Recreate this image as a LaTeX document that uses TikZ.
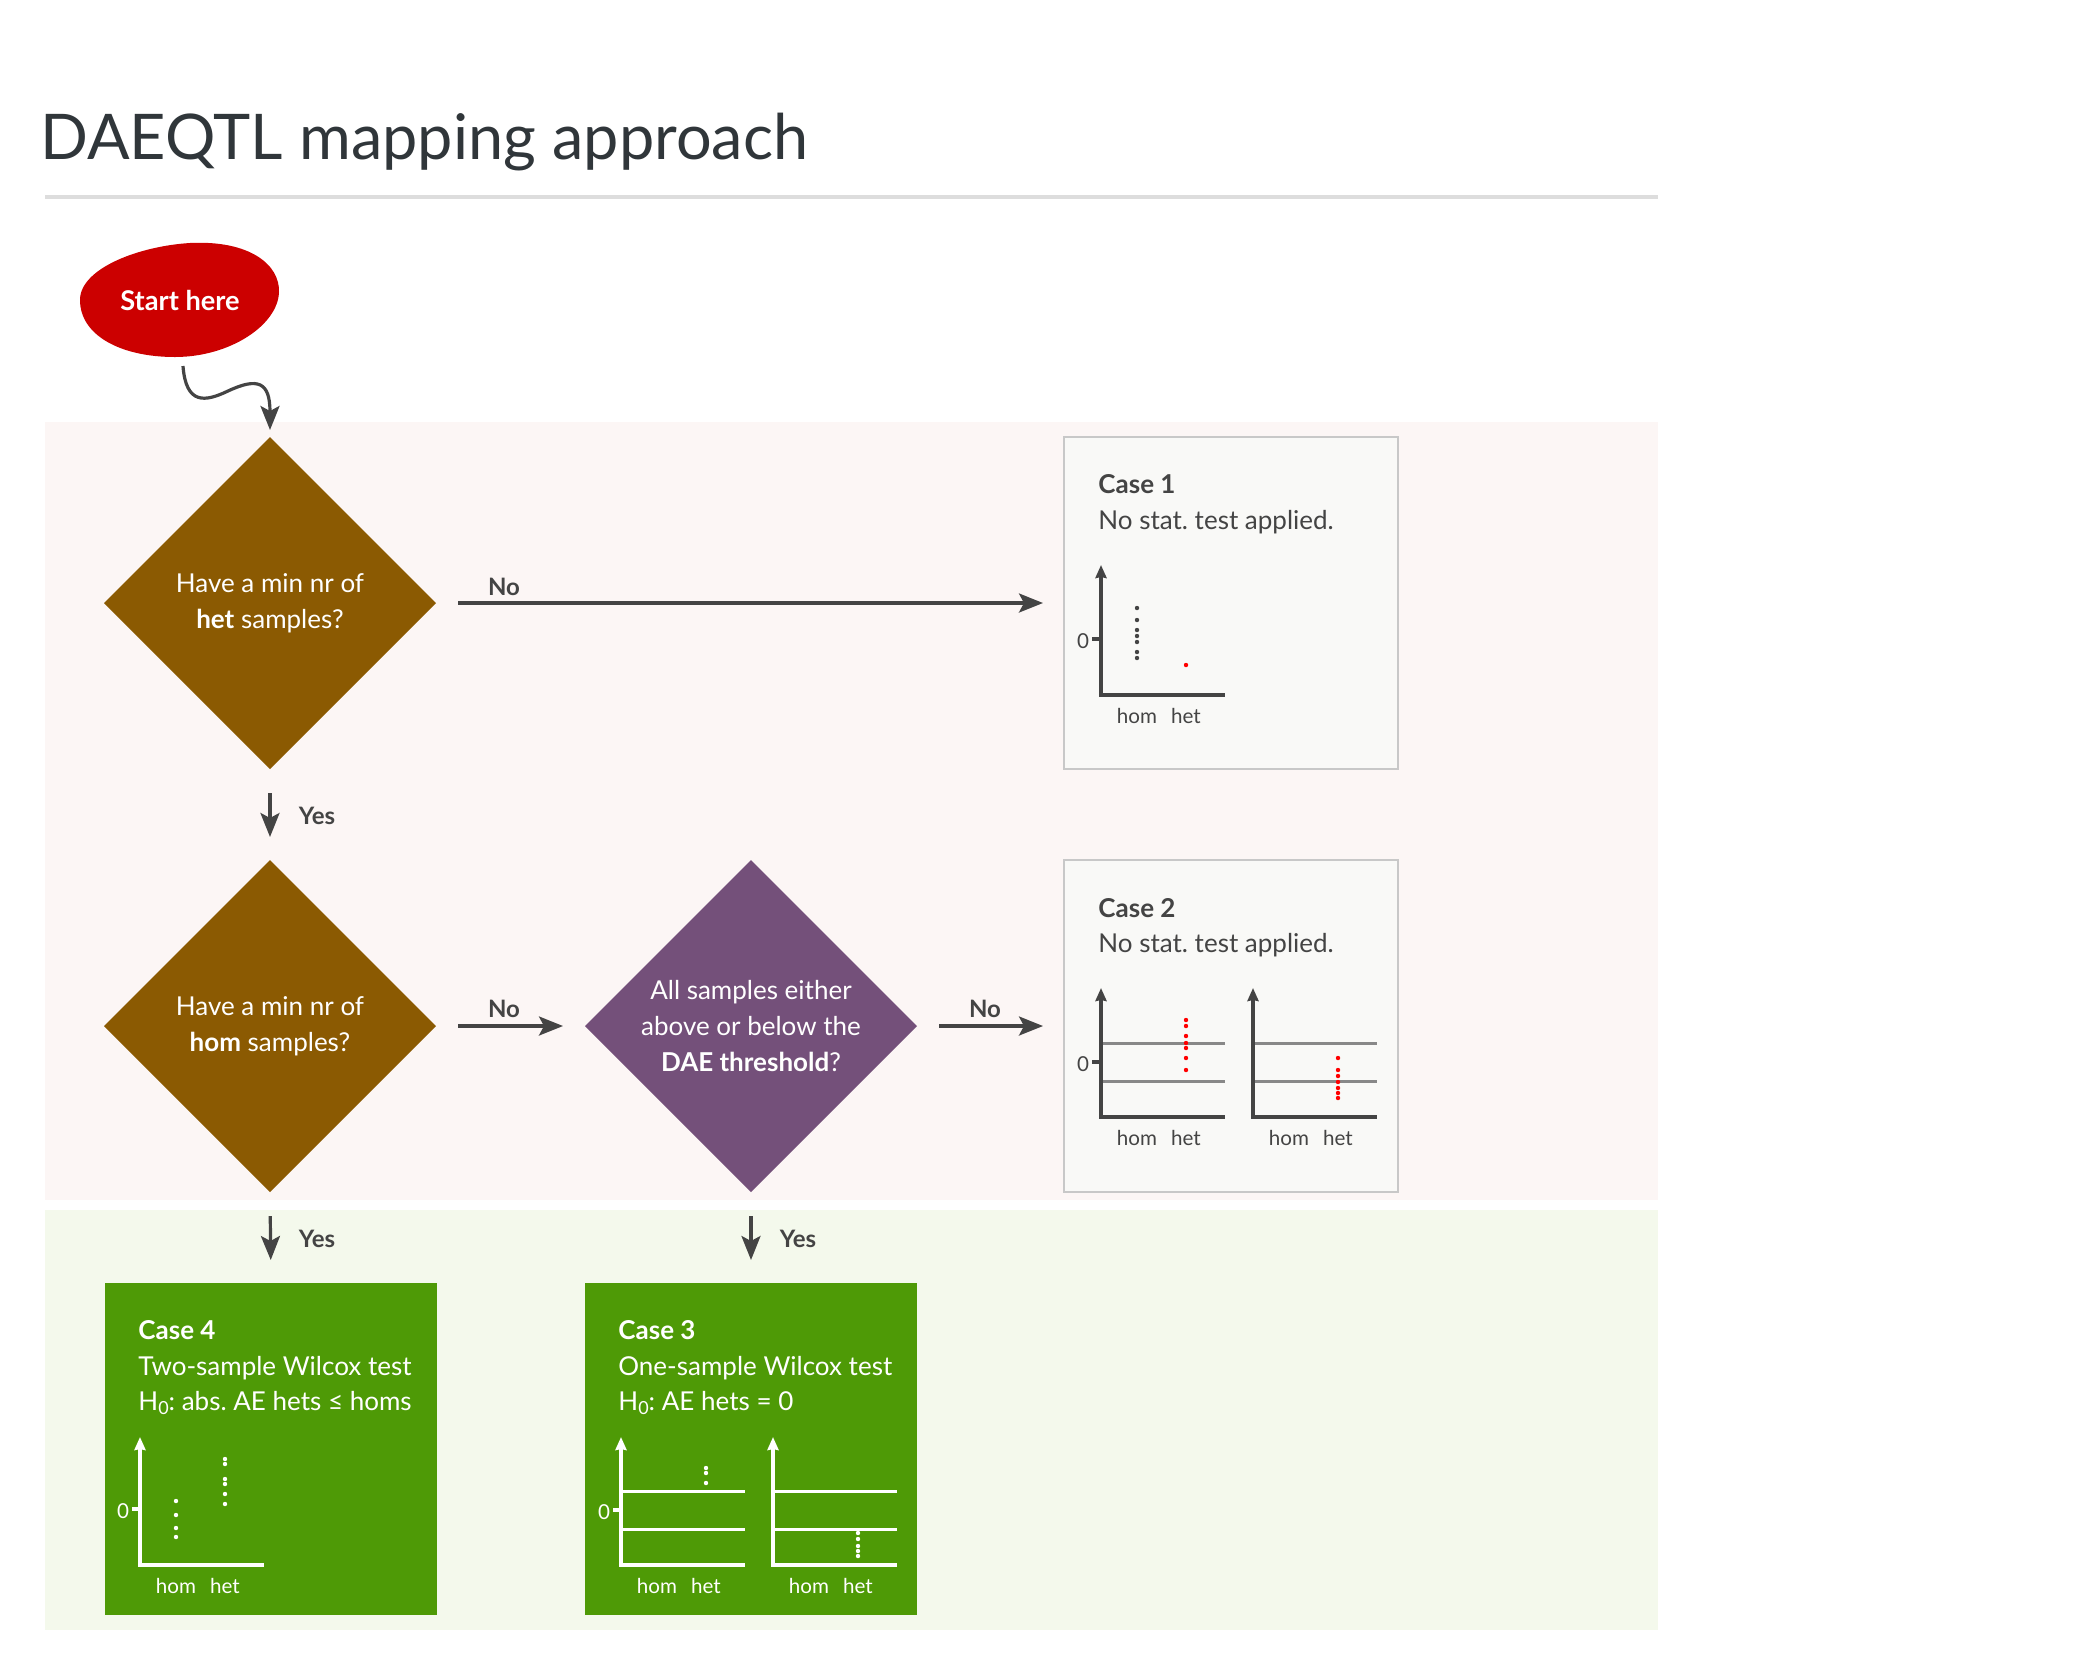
\documentclass[tikz,border=0pt]{standalone}
\usepackage{fontspec}
\setmainfont{Lato}
\usetikzlibrary{shapes.geometric,arrows.meta}
\definecolor{titlec}{HTML}{30363A}
\definecolor{rulec}{HTML}{DDDDDD}
\definecolor{pinkbg}{HTML}{FCF6F5}
\definecolor{greenbg}{HTML}{F4F9EC}
\definecolor{startred}{HTML}{CC0000}
\definecolor{brownd}{HTML}{8B5A02}
\definecolor{purpled}{HTML}{74507A}
\definecolor{greenc}{HTML}{4E9A06}
\definecolor{grayfill}{HTML}{F9F9F7}
\definecolor{grayedge}{HTML}{C8C8C8}
\definecolor{darkc}{HTML}{444444}
\definecolor{midgray}{HTML}{888888}
\definecolor{dotred}{HTML}{FF0000}
\newcommand{\subzero}{\raisebox{-0.35ex}{\fontsize{9}{10}\selectfont 0}}
\begin{document}
\frenchspacing
\begin{tikzpicture}[x=0.5pt,y=-0.5pt,
  dia/.style={diamond, aspect=1, minimum width=166pt, minimum height=166pt, inner sep=0pt, outer sep=0pt, text=white, align=center, font=\fontsize{13}{18}\selectfont},
  graybox/.style={rectangle, minimum width=167pt, minimum height=166pt, fill=grayfill, draw=grayedge, line width=0.6pt, inner sep=0pt, outer sep=0pt},
  greenbox/.style={rectangle, minimum width=166pt, minimum height=166pt, fill=greenc, inner sep=0pt, outer sep=0pt},
  conn/.style={draw=darkc, line width=1.6pt, -{Stealth[length=12pt,width=9.5pt,inset=2.5pt]}},
  lbl/.style={font=\bfseries\fontsize{12}{14}\selectfont, text=darkc, inner sep=0pt},
  casetxt/.style={anchor=base west, inner sep=0pt, font=\fontsize{13}{15}\selectfont},
  axlbl/.style={anchor=base, inner sep=0pt, font=\fontsize{10.3}{12}\selectfont},
  axis/.style={line width=2pt, line join=miter},
  axarrow/.style={{Stealth[length=6.5pt,width=5.5pt,inset=0.5pt]}-},
]
\useasboundingbox (0,0) rectangle (2083,1672);
% backgrounds
\fill[pinkbg] (45,422) rectangle (1658,1200);
\fill[greenbg] (45,1210) rectangle (1658,1630);
% title
\node[anchor=base west, inner sep=0pt, text=titlec, font=\fontsize{31.5}{38}\selectfont] (title) at (40,159) {DAEQTL mapping approach};
\draw[rulec, line width=2pt] (45,197) -- (1658,197);
% start blob
\fill[startred] (80,300) .. controls (80,268) and (140,246) .. (190,243) .. controls (250,240) and (280,265) .. (279,292) .. controls (278,325) and (230,357) .. (175,357) .. controls (120,357) and (80,335) .. (80,300) -- cycle;
\node[text=white, font=\bfseries\fontsize{13.6}{16}\selectfont, inner sep=0pt] (start) at (180,300) {Start here};
\coordinate (sfrom) at (183,366);
% diamonds
\node[dia, fill=brownd] (d1) at (270,603) {Have a min nr of\\\textbf{het} samples?};
\node[dia, fill=brownd] (d2) at (270,1026) {Have a min nr of\\\textbf{hom} samples?};
\node[dia, fill=purpled] (d3) at (751,1026) {All samples either\\above or below the\\\textbf{DAE threshold}?};
% case boxes
\node[graybox] (c1) at (1231,603) {};
\node[graybox] (c2) at (1231,1026) {};
\node[greenbox] (c4) at (271,1449) {};
\node[greenbox] (c3) at (751,1449) {};
% connectors
\draw[conn, shorten >=3.5pt] (sfrom) .. controls (186,405) and (205,402) .. (228,391) .. controls (258,377) and (270,382) .. (d1.north);
\draw[conn, shorten <=11pt, shorten >=10.5pt] (d1.east) -- (c1.west);
\draw[conn, shorten <=12pt, shorten >=11.5pt] (d1.south) -- (d2.north);
\draw[conn, shorten <=11pt, shorten >=11pt] (d2.east) -- (d3.west);
\draw[conn, shorten <=11pt, shorten >=10.5pt] (d3.east) -- (c2.west);
\draw[conn, shorten <=12pt, shorten >=11.5pt] (d2.south) -- (c4.north);
\draw[conn, shorten <=12pt, shorten >=11.5pt] (d3.south) -- (c3.north);
% connector labels
\node[lbl] (no1) at (504,587) {No};
\node[lbl] (yes1) at (317,816) {Yes};
\node[lbl] (no2) at (504,1009) {No};
\node[lbl] (no3) at (985,1009) {No};
\node[lbl] (yes2) at (317,1239) {Yes};
\node[lbl] (yes3) at (798,1239) {Yes};
% ---------- Case 1 ----------
\node[casetxt, text=darkc] (c1t) at (1098,493) {\textbf{Case 1}};
\node[casetxt, text=darkc] (c1s) at (1098,529) {No stat. test applied.};
\draw[axis, darkc, axarrow] (1101,565) |- (1225,695);
\draw[axis, darkc] (1092,639) -- (1101,639);
\node[axlbl, text=darkc, anchor=center] (c1z) at (1083,641) {0};
\foreach \yy in {608,620,630,636,642,652,658} \fill[darkc] (1137,\yy) circle (1.1pt);
\fill[dotred] (1186,665) circle (1.1pt);
\node[axlbl, text=darkc] (c1h) at (1137,723) {hom};
\node[axlbl, text=darkc] (c1e) at (1186,723) {het};
% ---------- Case 2 ----------
\node[casetxt, text=darkc] (c2t) at (1098,917) {\textbf{Case 2}};
\node[casetxt, text=darkc] (c2s) at (1098,952) {No stat. test applied.};
\draw[midgray, line width=1.5pt] (1101,1043) -- (1225,1043) (1101,1081) -- (1225,1081);
\draw[axis, darkc, axarrow] (1101,988) |- (1225,1117);
\draw[axis, darkc] (1092,1062) -- (1101,1062);
\node[axlbl, text=darkc, anchor=center] (c2z) at (1083,1064) {0};
\foreach \yy in {1020,1026,1036,1043,1048,1058,1070} \fill[dotred] (1186,\yy) circle (1.1pt);
\node[axlbl, text=darkc] (c2h) at (1137,1145) {hom};
\node[axlbl, text=darkc] (c2e) at (1186,1145) {het};
\draw[midgray, line width=1.5pt] (1253,1043) -- (1377,1043) (1253,1081) -- (1377,1081);
\draw[axis, darkc, axarrow] (1253,988) |- (1377,1117);
\foreach \yy in {1058,1070,1076,1082,1088,1093,1098} \fill[dotred] (1338,\yy) circle (1.1pt);
\node[axlbl, text=darkc] (c2h2) at (1289,1145) {hom};
\node[axlbl, text=darkc] (c2e2) at (1338,1145) {het};
% ---------- Case 4 ----------
\node[casetxt, text=white] (c4t) at (138,1339) {\textbf{Case 4}};
\node[casetxt, text=white] (c4s) at (138,1375) {Two-sample Wilcox test};
\node[casetxt, text=white] (c4h) at (138,1410) {H\subzero: abs. AE hets ≤ homs};
\draw[axis, white, axarrow] (140,1437) |- (264,1565);
\draw[axis, white] (132,1509) -- (140,1509);
\node[axlbl, text=white, anchor=center] (c4z) at (123,1511) {0};
\foreach \yy in {1501,1515,1528,1537} \fill[white] (176,\yy) circle (1.1pt);
\foreach \yy in {1459,1464,1479,1484,1494,1504} \fill[white] (225,\yy) circle (1.1pt);
\node[axlbl, text=white] (c4hm) at (176,1593) {hom};
\node[axlbl, text=white] (c4ht) at (225,1593) {het};
% ---------- Case 3 ----------
\node[casetxt, text=white] (c3t) at (618,1339) {\textbf{Case 3}};
\node[casetxt, text=white] (c3s) at (618,1375) {One-sample Wilcox test};
\node[casetxt, text=white] (c3h) at (618,1410) {H\subzero: AE hets = 0};
\draw[white, line width=1.5pt] (621,1491) -- (745,1491) (621,1529) -- (745,1529);
\draw[axis, white, axarrow] (621,1437) |- (745,1565);
\draw[axis, white] (613,1510) -- (621,1510);
\node[axlbl, text=white, anchor=center] (c3z) at (604,1512) {0};
\foreach \yy in {1468,1473,1483} \fill[white] (706,\yy) circle (1.1pt);
\node[axlbl, text=white] (c3hm) at (657,1593) {hom};
\node[axlbl, text=white] (c3ht) at (706,1593) {het};
\draw[white, line width=1.5pt] (773,1491) -- (897,1491) (773,1529) -- (897,1529);
\draw[axis, white, axarrow] (773,1437) |- (897,1565);
\foreach \yy in {1533,1539,1546,1551,1556} \fill[white] (858,\yy) circle (1.1pt);
\node[axlbl, text=white] (c3hm2) at (809,1593) {hom};
\node[axlbl, text=white] (c3ht2) at (858,1593) {het};
\end{tikzpicture}
\end{document}
